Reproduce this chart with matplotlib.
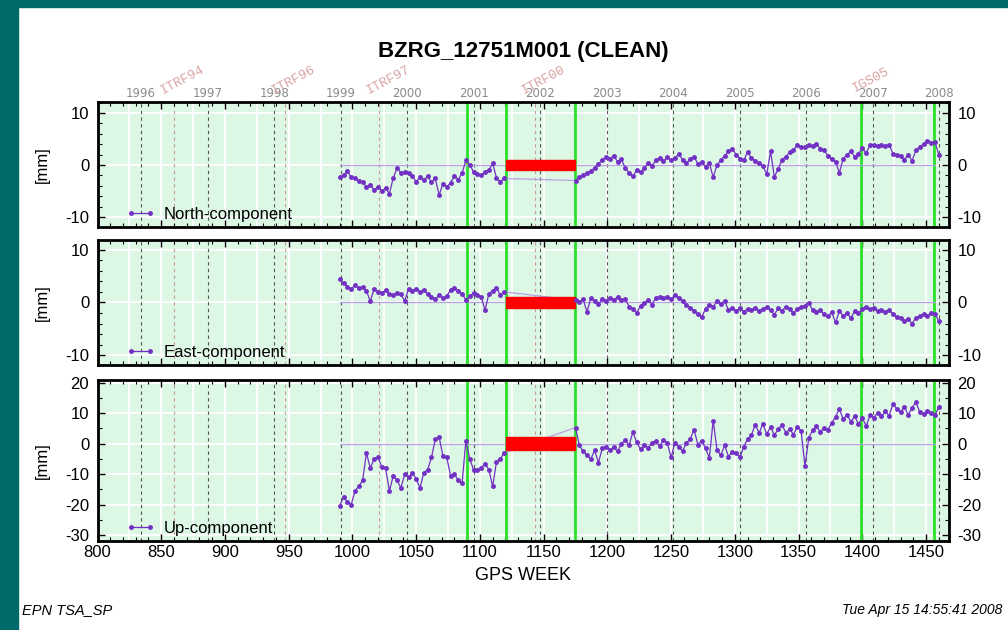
import numpy as np
import matplotlib.pyplot as plt
from matplotlib.patches import Rectangle
from matplotlib.lines import Line2D
from matplotlib.ticker import MultipleLocator
import matplotlib.transforms as mtransforms

plt.rcParams['font.family'] = ['Liberation Sans', 'DejaVu Sans']
plt.rcParams['axes.unicode_minus'] = False

# GPS weeks of the two data blocks (gap between 1120 and 1174)
weeks_a = np.arange(990, 1120, 3)
weeks_b = np.arange(1175, 1461, 3)

north_a = [-2.4, -2.0, -1.2, -2.4, -2.6, -3.0, -3.3, -4.2, -3.8, -4.8,
           -4.3, -5.0, -4.5, -5.5, -2.5, -0.6, -1.5, -1.4, -1.6, -2.2,
           -3.2, -2.4, -2.9, -2.2, -3.3, -2.6, -5.8, -3.6, -4.2, -3.4,
           -2.2, -2.8, -1.6, 0.9, 0.0, -1.3, -1.8, -2.0, -1.4, -1.0,
           0.3, -2.5, -3.2, -2.6]
north_b = [-3.0, -2.4, -2.0, -1.6, -1.2, -0.5, 0.2, 1.0, 1.6, 1.2,
           1.8, 0.6, 1.1, -0.6, -1.5, -2.2, -1.0, -1.4, -0.6, 0.4,
           -0.2, 0.9, 1.3, 0.7, 1.5, 0.9, 1.3, 2.1, 1.0, 0.3,
           1.2, 1.6, 0.2, 0.6, -0.3, 0.4, -2.4, 0.0, 0.9, 1.8,
           2.6, 3.1, 2.0, 1.2, 0.9, 2.5, 1.3, 0.8, 0.4, -0.2,
           -1.8, 2.6, -2.3, -0.8, 1.0, 1.6, 2.4, 2.9, 3.8, 3.5,
           3.4, 3.9, 3.6, 4.1, 3.1, 2.8, 1.8, 1.2, 0.6, -1.5,
           1.2, 2.0, 2.6, 1.6, 2.2, 3.2, 2.3, 3.8, 3.9, 3.7,
           3.8, 3.7, 3.9, 2.2, 1.9, 1.7, 1.0, 2.0, 0.8, 2.8,
           3.5, 4.0, 4.6, 4.3, 4.4, 2.0]

east_a = [4.4, 3.6, 3.0, 2.6, 3.2, 2.7, 2.9, 2.2, 0.2, 2.6,
          2.0, 1.7, 2.3, 1.6, 1.4, 1.8, 1.5, 0.3, 2.5, 2.2,
          2.6, 2.0, 2.4, 1.6, 1.0, 0.6, 1.4, 0.8, 1.2, 2.4,
          2.8, 2.2, 1.6, 0.5, 1.2, 1.7, 1.4, 1.1, -1.5, 1.6,
          2.2, 2.8, 1.4, 2.0]
east_b = [0.4, 0.1, 0.6, -1.8, 0.8, 0.2, -0.3, 0.6, 0.2, 0.9,
          0.5, 1.0, 0.4, 0.7, -0.8, -1.2, -2.0, -0.6, -0.2, 0.4,
          -0.4, 0.9, 1.0, 0.8, 1.1, 0.6, 1.4, 0.9, 0.2, -0.5,
          -1.0, -1.6, -2.2, -2.8, -1.2, -0.4, -0.8, 0.2, -0.3, 0.3,
          -1.5, -1.0, -1.6, -1.1, -1.8, -1.2, -1.4, -1.0, -1.7, -1.3,
          -0.9, -1.5, -2.3, -1.1, -1.6, -0.8, -1.3, -2.0, -1.2, -0.9,
          -0.6, -0.2, -1.4, -1.8, -1.5, -2.2, -2.6, -1.9, -3.8, -1.7,
          -2.5, -2.0, -3.0, -1.6, -2.1, -1.2, -0.9, -1.3, -1.0, -1.6,
          -1.4, -1.8, -1.5, -2.2, -2.8, -3.0, -3.5, -3.2, -4.0, -2.9,
          -2.6, -2.2, -2.5, -2.0, -2.2, -3.5]

up_a = [-20.4, -17.5, -19.0, -20.0, -15.5, -14.0, -12.0, -3.0, -8.0, -5.0,
        -4.5, -7.5, -8.0, -15.5, -10.5, -12.0, -14.5, -10.0, -11.0, -9.5,
        -11.5, -14.5, -9.5, -8.5, -4.5, 1.5, 2.2, -4.0, -4.5, -10.5,
        -10.0, -12.0, -13.0, 1.0, -5.0, -8.5, -8.6, -8.0, -6.5, -8.5,
        -14.0, -6.0, -5.0, -3.0]
up_b = [5.3, -0.5, -2.5, -3.8, -5.0, -2.2, -6.2, -1.5, -1.0, -2.0,
        -1.2, -2.5, 0.0, 1.2, -0.5, 3.8, 0.5, -1.8, -0.4, -1.4,
        0.3, 1.0, -0.8, 1.3, 0.2, -4.5, 0.4, -1.2, -2.4, 0.2,
        1.6, 4.6, -0.3, 1.0, -1.5, -4.6, 7.6, -2.0, -3.8, -0.5,
        -4.2, -2.6, -3.0, -4.4, -1.0, 1.5, 2.8, 6.3, 3.5, 6.5,
        3.2, 5.5, 2.8, 4.8, 6.2, 3.6, 4.8, 3.0, 5.6, 4.2,
        -7.4, 2.0, 4.4, 5.8, 3.9, 5.2, 4.6, 6.8, 8.8, 11.5,
        8.0, 9.5, 7.2, 9.0, 6.4, 8.5, 5.8, 9.3, 8.6, 10.2,
        9.0, 10.6, 9.2, 13.0, 11.5, 10.4, 12.2, 9.4, 11.8, 13.6,
        10.5, 9.8, 10.8, 10.2, 9.4, 12.0]

years = [1996, 1997, 1998, 1999, 2000, 2001, 2002, 2003, 2004, 2005, 2006, 2007, 2008]
year_weeks = [834.1, 886.4, 938.6, 990.7, 1042.9, 1095.1, 1147.3, 1199.4,
              1251.6, 1303.9, 1356.0, 1408.1, 1460.3]
frame_names = ['ITRF94', 'ITRF96', 'ITRF97', 'ITRF00', 'IGS05']
frame_weeks = [860, 947, 1021, 1143, 1400]
offset_weeks = [1089.5, 1120.4, 1174.5, 1398.7, 1456.6]
gap = (1120.4, 1174.5)

panels = [
    ('North-component', north_a, north_b, (-11.9, 12.1), [-10, 0, 10], 2, 1.0),
    ('East-component', east_a, east_b, (-11.8, 11.8), [-10, 0, 10], 2, 1.0),
    ('Up-component', up_a, up_b, (-32, 21), [-30, -20, -10, 0, 10, 20], 5, 2.2),
]

purple = '#7230c4'
bg = '#dcf7e3'

fig = plt.figure(figsize=(10.08, 6.3), dpi=100)
fig.patches.append(Rectangle((0, 0), 18 / 1008, 1, transform=fig.transFigure,
                             color='#006a6a', zorder=0))
fig.patches.append(Rectangle((0, 1 - 7 / 630), 1, 7 / 630, transform=fig.transFigure,
                             color='#006a6a', zorder=0))

boxes = [(0.640, 0.198), (0.421, 0.198), (0.1408, 0.2565)]
left, width = 97.5 / 1008, 851.5 / 1008
axs = []
for (bottom, height), (name, a, b, ylim, yt, ymin, bar_h) in zip(boxes, panels):
    ax = fig.add_axes([left, bottom, width, height])
    axs.append(ax)
    ax.set_facecolor(bg)
    ax.set_xlim(800, 1468)
    ax.set_ylim(*ylim)

    for g in np.arange(800, 1475, 25):
        ax.axvline(g, color='white', lw=1.3, zorder=0.5)
    for g in yt:
        ax.axhline(g, color='white', lw=1.3, zorder=0.5)
    for w in year_weeks:
        ax.axvline(w, color='#555555', lw=0.8, ls=(0, (3, 3)), zorder=1)
    for w in frame_weeks:
        ax.axvline(w, color='#c99a9a', lw=0.8, ls=(0, (3, 3)), zorder=1)
    for w in offset_weeks:
        ax.axvline(w, color='#2be02b', lw=2, zorder=2)

    ax.plot([weeks_a[0], 1457], [0, 0], color='#b9a0e6', lw=0.9, zorder=2.5)
    ax.plot([weeks_a[-1], weeks_b[0]], [a[-1], b[0]], color='#b9a0e6', lw=0.9, zorder=2.5)
    ax.add_patch(Rectangle((gap[0], -bar_h), gap[1] - gap[0], 2 * bar_h,
                           color='#ff0000', zorder=3))

    ax.plot(weeks_a, a, color=purple, lw=0.9, marker='o', ms=2.5, zorder=4)
    ax.plot(weeks_b, b, color=purple, lw=0.9, marker='o', ms=2.5, zorder=4)

    handle = Line2D([], [], color=purple, lw=0.9, marker='o', ms=2.5)
    ax.legend([handle], [name], loc='lower left', bbox_to_anchor=(0.028, 0.0),
              frameon=False, fontsize=12, numpoints=2, handlelength=1.7,
              handletextpad=0.55, borderpad=0.3, borderaxespad=0)

    ax.set_yticks(yt)
    ax.yaxis.set_minor_locator(MultipleLocator(ymin))
    ax.xaxis.set_major_locator(MultipleLocator(50))
    ax.xaxis.set_minor_locator(MultipleLocator(10))
    ax.tick_params(axis='both', which='both', direction='in', top=True, right=True,
                   labelright=True, labelsize=12)
    ax.tick_params(which='major', length=5, width=1)
    ax.tick_params(which='minor', length=3, width=0.8)
    ax.tick_params(axis='x', labelbottom=False, pad=3)
    ax.tick_params(axis='y', pad=6)
    ax.set_ylabel('[mm]', fontsize=12)
    ax.yaxis.set_label_coords(-0.056, 0.5)
    for s in ax.spines.values():
        s.set_linewidth(2)

axs[2].tick_params(axis='x', labelbottom=True)

top = axs[0]
trans = mtransforms.blended_transform_factory(top.transData, top.transAxes)
for y, w in zip(years, year_weeks):
    top.text(w, 1.07, str(y), transform=trans, ha='center', va='center',
             fontsize=8.5, color='#8a8a8a', family='DejaVu Sans')
for n, w in zip(frame_names, frame_weeks):
    top.text(w + 7, 1.18, n, transform=trans, ha='center', va='center', rotation=28,
             fontsize=9.5, color='#d9a3a3', family='Liberation Mono')

fig.text(523 / 1008, 1 - 52 / 630, 'BZRG_12751M001 (CLEAN)', ha='center', va='center',
         fontsize=16, fontweight='bold')
fig.text(523 / 1008, 1 - 575 / 630, 'GPS WEEK', ha='center', va='center', fontsize=13)
fig.text(22 / 1008, 1 - 610 / 630, 'EPN TSA_SP', ha='left', va='center',
         fontsize=10.5, style='italic')
fig.text(1002 / 1008, 1 - 610 / 630, 'Tue Apr 15 14:55:41 2008', ha='right', va='center',
         fontsize=10, style='italic')

fig.savefig('out.png', dpi=100)
